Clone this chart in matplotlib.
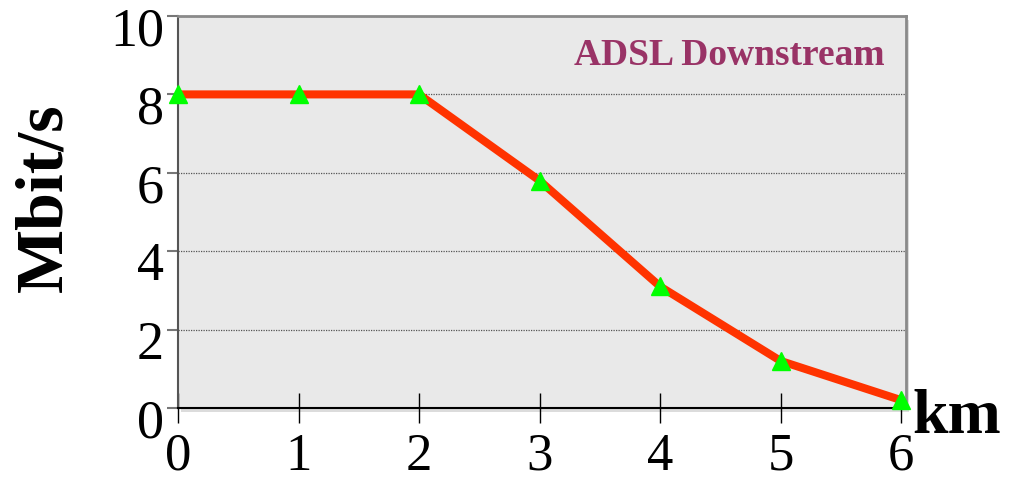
import matplotlib
matplotlib.use("Agg")
import matplotlib.pyplot as plt
import matplotlib.transforms as mtransforms
from matplotlib.patches import Rectangle

# data
km = [0, 1, 2, 3, 4, 5, 6]
mbit = [8.0, 8.0, 8.0, 5.8, 3.1, 1.2, 0.2]
yticks = [0, 2, 4, 6, 8, 10]

plt.rcParams['font.family'] = ['Liberation Serif', 'DejaVu Serif']

W, H = 1009, 483
fig = plt.figure(figsize=(W / 100, H / 100), dpi=100)
fig.patch.set_facecolor('white')

# axes box in pixels
x0, x1, ytop, ybot = 178, 906, 16, 408
rect = [x0 / W, (H - ybot) / H, (x1 - x0) / W, (ybot - ytop) / H]

# light shadow behind the plot area
fig.patches.append(Rectangle((rect[0] + 3 / W, rect[1] - 4 / H), rect[2], rect[3],
                             transform=fig.transFigure, facecolor='#dcdcdc',
                             edgecolor='none', zorder=-5))

ax = fig.add_axes(rect)
ax.set_facecolor('#e9e9e9')

ax.plot(km, mbit, color='#ff3300', lw=5.8, solid_capstyle='butt', zorder=3, clip_on=False)
ax.plot(km, mbit, ls='none', marker='^', ms=13, color='#00ff00', mec='#00ff00',
        zorder=4, clip_on=False)

ax.set_xlim(0, 6.04)
ax.set_ylim(0, 10)
ax.set_xticks(km)
ax.set_yticks(yticks)

ax.grid(axis='y', ls=(0, (1, 1)), color='#555555', lw=0.9)
ax.set_axisbelow(True)

for s in ['top', 'right']:
    ax.spines[s].set_color('#8a8a8a')
    ax.spines[s].set_linewidth(2)
ax.spines['left'].set_color('#555555')
ax.spines['left'].set_linewidth(1.5)
ax.spines['bottom'].set_color('black')
ax.spines['bottom'].set_linewidth(1.5)

ax.tick_params(axis='x', direction='inout', length=22, width=1, color='black',
               labelsize=38, pad=7)
ax.tick_params(axis='y', direction='out', length=8, width=1.5, color='#777777',
               labelsize=39, pad=2)

offset = mtransforms.ScaledTranslation(0, -10 / 100, fig.dpi_scale_trans)
for lab in ax.get_yticklabels():
    lab.set_transform(lab.get_transform() + offset)

fig.text(45 / W, 1 - 198 / H, 'Mbit/s', rotation=90, ha='center', va='center',
         fontsize=49, fontweight='bold')
fig.text(957 / W, 1 - 418 / H, 'km', ha='center', va='center',
         fontsize=46, fontweight='bold')
ax.text(0.97, 0.9, 'ADSL Downstream', transform=ax.transAxes, ha='right', va='center',
        fontsize=27, fontweight='bold', color='#993366')

fig.savefig('out.png', dpi=100)
